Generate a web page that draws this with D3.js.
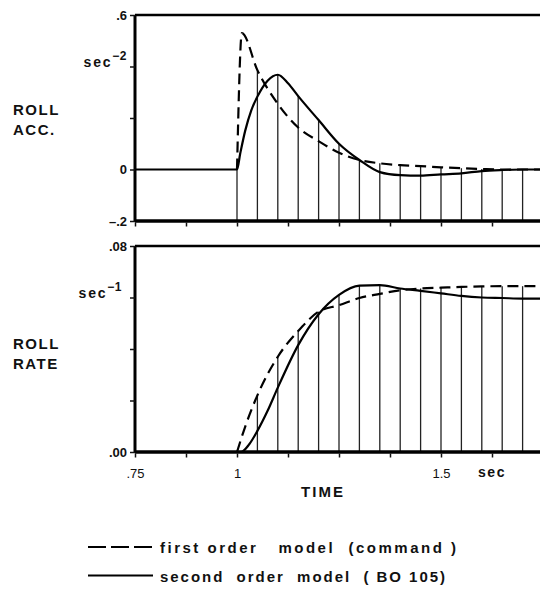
<!DOCTYPE html>
<html>
<head>
<meta charset="utf-8">
<script src="https://cdn.jsdelivr.net/npm/d3@7"></script>
<style>
	body { margin: 0; background: #fff; }
	svg text { font-family: "Liberation Sans", Arial, sans-serif; fill: #111; }
	.domain { display: none; }
	.tick line { stroke: #111; stroke-width: 1.5; }
	.tick text { font-size: 13px; font-weight: bold; }
</style>
</head>
<body>
<div id="chart-box"></div>
<script>
// roll acceleration, first order model (dashed), zero before the step at t=1
const accFirstT = [1.0, 1.012, 1.05, 1.1, 1.15, 1.2, 1.25, 1.3, 1.35, 1.4, 1.45, 1.5, 1.55, 1.6, 1.65, 1.7, 1.75];
const accFirst  = [0, 0.53, 0.386, 0.255, 0.163, 0.11, 0.065, 0.037, 0.024, 0.017, 0.013, 0.0085, 0.005, 0.002, 0, 0, 0];
// roll acceleration, second order model (solid)
const accSecondT = [0.75, 1.0, 1.008, 1.02, 1.035, 1.05, 1.075, 1.1, 1.125, 1.15, 1.2, 1.25, 1.3, 1.35, 1.4, 1.45, 1.5, 1.55, 1.6, 1.65, 1.7, 1.75];
const accSecond  = [0, 0, 0.063, 0.15, 0.23, 0.283, 0.345, 0.368, 0.335, 0.285, 0.192, 0.1, 0.037, -0.01, -0.022, -0.024, -0.019, -0.015, -0.006, -0.002, 0, 0];
// roll rate, first order model (dashed)
const rateFirstT = [1.0, 1.02, 1.05, 1.1, 1.15, 1.2, 1.25, 1.3, 1.35, 1.4, 1.45, 1.5, 1.55, 1.6, 1.65, 1.7, 1.75];
const rateFirst  = [0, 0.0098, 0.022, 0.037, 0.047, 0.0545, 0.057, 0.0598, 0.0614, 0.0628, 0.0635, 0.0638, 0.0641, 0.0643, 0.0644, 0.0644, 0.0644];
// roll rate, second order model (solid)
const rateSecondT = [0.75, 1.0, 1.01, 1.03, 1.05, 1.075, 1.1, 1.15, 1.2, 1.25, 1.3, 1.35, 1.4, 1.45, 1.5, 1.55, 1.6, 1.65, 1.7, 1.75];
const rateSecond  = [0, 0, 0, 0.003, 0.0082, 0.016, 0.025, 0.0415, 0.0535, 0.061, 0.0646, 0.0648, 0.0635, 0.0626, 0.0616, 0.0606, 0.06, 0.0598, 0.0596, 0.0596];

// sample instants marked with vertical lines
const dropTimes = [1.0, 1.05, 1.1, 1.15, 1.2, 1.25, 1.3, 1.35, 1.4, 1.45, 1.5, 1.55, 1.6, 1.65, 1.7];

// axis ticks and labels
const timeTicks = [0.75, 0.875, 1.0, 1.125, 1.25, 1.375, 1.5, 1.625];
const timeLabels = {"0.75": ".75", "1": "1", "1.5": "1.5"};
const accTicks = [-0.2, 0, 0.2, 0.4, 0.6];
const accLabels = {"-0.2": "\u2013.2", "0": "0", "0.6": ".6"};
const rateTicks = [0, 0.02, 0.04, 0.06, 0.08];
const rateLabels = {"0": ".00", "0.08": ".08"};
const legendNames = ["first order   model  (command )", "second  order  model  ( BO 105)"];

const chart =
{
	w: 540,
	h: 596,
	left: 135,
	draw: function ()
	{
		const svg = d3.select("#chart-box")
		.append("svg")
		.attr("width", this.w)
		.attr("height", this.h);

		const x = d3.scaleLinear().domain([0.75, 1.75]).range([this.left, 543]);

		const yAcc = d3.scaleLinear().domain([-0.2, 0.6]).range([221, 15]);
		const yRate = d3.scaleLinear().domain([0, 0.08]).range([452, 246]);

		this.panel(svg, x, yAcc, accTicks, accLabels, accFirstT, accFirst, accSecondT, accSecond, false);
		this.panel(svg, x, yRate, rateTicks, rateLabels, rateFirstT, rateFirst, rateSecondT, rateSecond, true);

		// unit labels and panel titles
		this.unit(svg, 127, yAcc(0.4), "sec", "\u22122");
		this.unit(svg, 122, yRate(0.06), "sec", "\u22121");
		this.title(svg, 13, 115, ["ROLL", "ACC."]);
		this.title(svg, 13, 349, ["ROLL", "RATE"]);

		svg.append("text")
		.attr("x", x(1.625))
		.attr("y", 477)
		.attr("text-anchor", "middle")
		.style("font-size", "14px")
		.style("font-weight", "bold")
		.style("letter-spacing", "1.5px")
		.text("sec");

		svg.append("text")
		.attr("x", 323)
		.attr("y", 497)
		.attr("text-anchor", "middle")
		.style("font-size", "15px")
		.style("font-weight", "bold")
		.style("letter-spacing", "2px")
		.text("TIME");

		this.legend(svg);
	},
	panel: function (svg, x, y, yTicks, yLabels, t1, v1, t2, v2, showTime)
	{
		const [yBottom, yTop] = y.range();

		// vertical sample lines up to the higher curve
		const valueAt = (ts, vs, t) => {
			const i = ts.findIndex((d) => Math.abs(d - t) < 1e-6);
			return i < 0 ? 0 : vs[i];
		};
		svg.append("g")
		.selectAll("line")
		.data(dropTimes)
		.enter()
		.append("line")
		.attr("x1", (d) => x(d))
		.attr("x2", (d) => x(d))
		.attr("y1", yBottom)
		.attr("y2", (d) => y(Math.max(valueAt(t1, v1, d), valueAt(t2, v2, d))))
		.attr("stroke", "#222")
		.attr("stroke-width", 1.3);

		// frame: left axis, top line, bottom axis
		svg.append("line")
		.attr("x1", this.left).attr("x2", this.left)
		.attr("y1", yTop).attr("y2", yBottom)
		.attr("stroke", "#000").attr("stroke-width", 3);
		svg.append("line")
		.attr("x1", this.left).attr("x2", this.w)
		.attr("y1", yTop).attr("y2", yTop)
		.attr("stroke", "#000").attr("stroke-width", 2.5);
		svg.append("line")
		.attr("x1", this.left).attr("x2", this.w)
		.attr("y1", yBottom).attr("y2", yBottom)
		.attr("stroke", "#000").attr("stroke-width", 3.5);

		const yAxis = d3.axisLeft(y)
		.tickValues(yTicks)
		.tickSize(5)
		.tickPadding(3)
		.tickFormat((d) => yLabels[String(+d.toFixed(3))] || "");
		svg.append("g")
		.attr("transform", "translate(" + this.left + ",0)")
		.call(yAxis);

		const xAxis = d3.axisBottom(x)
		.tickValues(timeTicks)
		.tickSize(4)
		.tickPadding(11)
		.tickFormat((d) => showTime ? (timeLabels[String(d)] || "") : "");
		const gx = svg.append("g")
		.attr("transform", "translate(0," + (yBottom + 1.5) + ")")
		.call(xAxis);
		gx.selectAll(".tick text").style("font-size", "13px").style("font-weight", "normal");

		const line1 = d3.line()
		.x((d, i) => x(t1[i]))
		.y((d) => y(d))
		.curve(d3.curveMonotoneX);
		const line2 = d3.line()
		.x((d, i) => x(t2[i]))
		.y((d) => y(d))
		.curve(d3.curveMonotoneX);

		svg.append("path")
		.attr("d", line2(v2))
		.attr("fill", "none")
		.attr("stroke", "#000")
		.attr("stroke-width", 2.2);
		svg.append("path")
		.attr("d", line1(v1))
		.attr("fill", "none")
		.attr("stroke", "#000")
		.attr("stroke-width", 2.2)
		.attr("stroke-dasharray", "11,6");
	},
	unit: function (svg, xr, yb, base, sup)
	{
		const t = svg.append("text")
		.attr("x", xr)
		.attr("y", yb)
		.attr("text-anchor", "end")
		.style("font-size", "14px")
		.style("font-weight", "bold")
		.style("letter-spacing", "1.8px");
		t.append("tspan").text(base);
		t.append("tspan")
		.attr("dy", "-7")
		.style("font-size", "12px")
		.style("letter-spacing", "0.5px")
		.text(sup);
	},
	title: function (svg, x0, y0, lines)
	{
		svg.append("g")
		.selectAll("text")
		.data(lines)
		.enter()
		.append("text")
		.attr("x", x0)
		.attr("y", (d, i) => y0 + i * 20)
		.style("font-size", "15px")
		.style("font-weight", "bold")
		.style("letter-spacing", "1.5px")
		.text((d) => d);
	},
	legend: function (svg)
	{
		// widths of the two legend lines as printed
		const rowWidth = [296, 285];
		const row = svg.selectAll(".legend")
		.data(legendNames)
		.enter()
		.append("g")
		.attr("class", "legend")
		.attr("transform", (d, i) => "translate(0," + (547 + i * 28.5) + ")");

		row.append("line")
		.attr("x1", 88)
		.attr("x2", 153)
		.attr("stroke", "#000")
		.attr("stroke-width", 2)
		.attr("stroke-dasharray", (d, i) => i === 0 ? "18,5" : null);

		row.append("text")
		.attr("x", 160)
		.attr("y", 6)
		.attr("xml:space", "preserve")
		.attr("textLength", (d, i) => rowWidth[i])
		.attr("lengthAdjust", "spacing")
		.style("white-space", "pre")
		.style("font-size", "15px")
		.style("font-weight", "bold")
		.text((d) => d);
	}
};

document.addEventListener("DOMContentLoaded", function ()
{
	chart.draw();
});
</script>
</body>
</html>
